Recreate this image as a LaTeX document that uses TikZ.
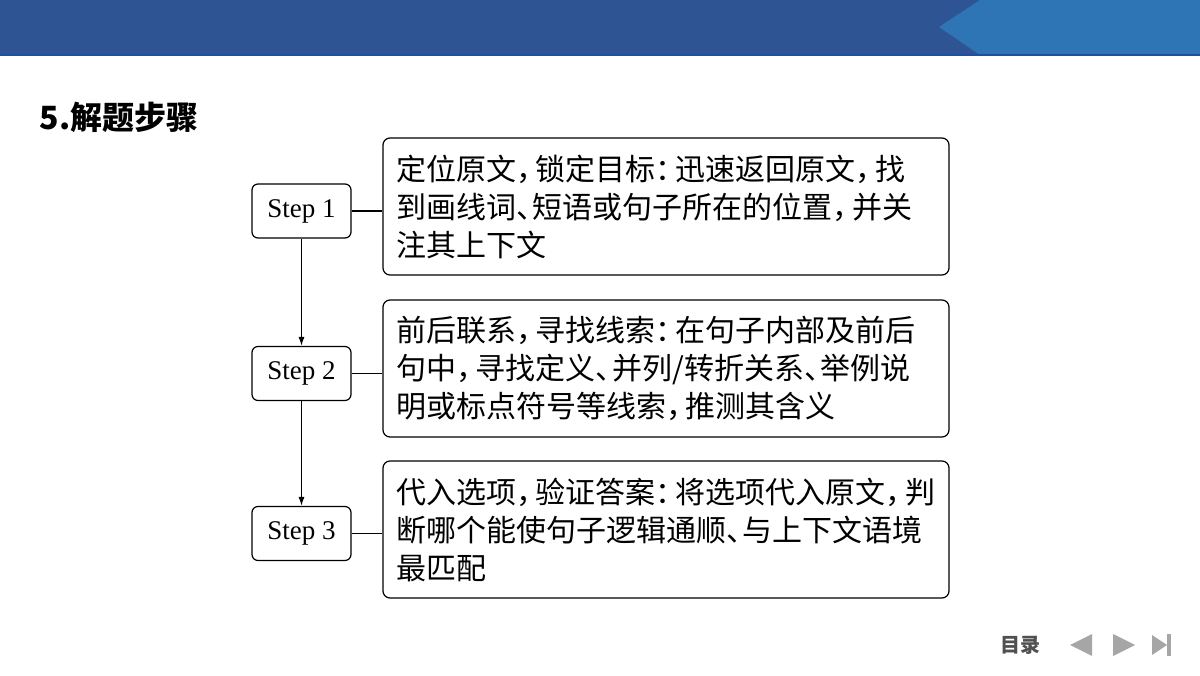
\documentclass[tikz,border=0pt]{standalone}
\usepackage{fontspec}
\setmainfont{Liberation Serif}
\newfontfamily\cjk{Noto Sans CJK SC}
\usetikzlibrary{arrows.meta}
\definecolor{hdark}{RGB}{46,84,148}
\definecolor{hlight}{RGB}{46,117,182}
\definecolor{hline}{RGB}{30,80,160}
\definecolor{menuc}{RGB}{80,80,80}
\newcommand\cmm{\makebox[0.66em][l]{，}}
\newcommand\cln{\makebox[0.66em][l]{：}}
\newcommand\dun{\makebox[0.55em][l]{、}}
\begin{document}
\begin{tikzpicture}[x=1pt,y=-1pt,
 stepbox/.style={draw,line width=1.2pt,rounded corners=6pt,minimum width=99pt,minimum height=54pt,font=\fontsize{27}{30}\selectfont,inner sep=0},
 txt/.style={draw,line width=1.2pt,rounded corners=7pt,minimum width=566pt,minimum height=137pt,align=left,text width=540pt,font=\cjk\fontsize{30}{38}\selectfont,inner sep=0},
 conn/.style={line width=1.2pt},
 arr/.style={line width=1.2pt,-{Latex[length=9pt,width=6pt]}}]
\useasboundingbox (0,0) rectangle (1200,676);
\fill[white] (0,0) rectangle (1200,676);
\fill[hdark] (0,0) rectangle (1200,55);
\fill[hlight] (980,0) -- (1200,0) -- (1200,55) -- (980,55) -- (939,27) -- cycle;
\draw[line width=1.5pt,hline] (0,55) -- (1200,55);
\node[anchor=west,font=\cjk\bfseries\fontsize{32}{34}\selectfont] (title) at (36,117) {5.解题步骤};
\node[stepbox] (s1) at (301.5,211) {Step 1};
\node[stepbox] (s2) at (301.5,373.5) {Step 2};
\node[stepbox] (s3) at (301.5,533.5) {Step 3};
\node[txt] (t1) at (666,206.5) {定位原文\cmm 锁定目标\cln 迅速返回原文\cmm 找\\到画线词\dun 短语或句子所在的位置\cmm 并关\\注其上下文};
\node[txt] (t2) at (666,368.5) {前后联系\cmm 寻找线索\cln 在句子内部及前后\\句中\cmm 寻找定义\dun 并列/转折关系\dun 举例说\\明或标点符号等线索\cmm 推测其含义};
\node[txt] (t3) at (666,529.5) {代入选项\cmm 验证答案\cln 将选项代入原文\cmm 判\\断哪个能使句子逻辑通顺\dun 与上下文语境\\最匹配};
\draw[conn] (s1) -- (t1.west |- s1);
\draw[conn] (s2) -- (t2.west |- s2);
\draw[conn] (s3) -- (t3.west |- s3);
\draw[arr] (s1) -- (s2);
\draw[arr] (s2) -- (s3);
\node[font=\cjk\bfseries\fontsize{20}{22}\selectfont,text=menuc] (menu) at (1020,645) {目录};
\fill[gray!70] (1070,645) -- (1092,634) -- (1092,656) -- cycle;
\fill[gray!70] (1135,645) -- (1113,634) -- (1113,656) -- cycle;
\fill[gray!70] (1167,645) -- (1152,635) -- (1152,655) -- cycle;
\fill[gray!70] (1167,634) rectangle (1171,656);
\end{tikzpicture}
\end{document}
